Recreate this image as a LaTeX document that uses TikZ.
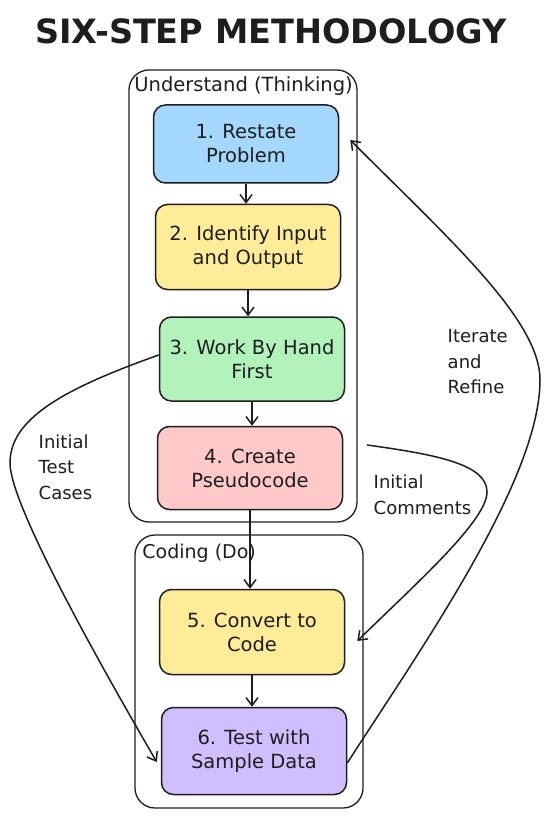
\documentclass[tikz,border=0pt]{standalone}
\usepackage{fontspec}
\setmainfont{DejaVu Sans}
\usepackage{tikz}
\usetikzlibrary{arrows.meta, positioning}
\definecolor{ink}{RGB}{30, 30, 30}
\definecolor{skyblue}{RGB}{165, 216, 255}
\definecolor{butter}{RGB}{255, 236, 153}
\definecolor{mint}{RGB}{178, 242, 187}
\definecolor{blush}{RGB}{255, 201, 201}
\definecolor{lilac}{RGB}{208, 191, 255}

\begin{document}
\begin{tikzpicture}[x=1pt, y=-1pt, thick, ink,
  stepbox/.style={draw=ink, line width=1.5pt, rounded corners=12pt,
    minimum width=185pt, minimum height=82pt, align=center,
    font=\fontsize{19.5}{24}\selectfont},
  grp/.style={draw=ink, line width=1.3pt, rounded corners=20pt},
  flow/.style={draw=ink, line width=1.5pt, -{Straight Barb[length=8pt, width=12pt]}},
  note/.style={align=left, anchor=west, font=\fontsize{18}{25.5}\selectfont}]

  \fill[white] (0, 0) rectangle (548, 818);
  \useasboundingbox (0, 0) rectangle (548, 818);

  \node[font=\bfseries\fontsize{33.5}{40}\selectfont] (title) at (271, 31) {SIX-STEP METHODOLOGY};

  % the two phases
  \draw[grp] (129, 70) rectangle (357, 522);
  \node[anchor=west, inner sep=2pt, font=\fontsize{19.5}{22}\selectfont] (think) at (132, 86) {Understand (Thinking)};
  \draw[grp] (135, 535) rectangle (363, 808);
  \node[anchor=west, inner sep=2pt, font=\fontsize{19}{22}\selectfont] (coding) at (140, 553) {Coding (Do)};

  \node[stepbox, fill=skyblue, minimum height=78pt] (s1) at (246, 144) {1. Restate\\Problem};
  \node[stepbox, fill=butter, minimum height=85pt] (s2) at (248, 247) {2. Identify Input\\and Output};
  \node[stepbox, fill=mint, minimum height=84pt] (s3) at (252, 359) {3. Work By Hand\\First};
  \node[stepbox, fill=blush, minimum height=83pt] (s4) at (250, 468) {4. Create\\Pseudocode};
  \node[stepbox, fill=butter, minimum height=85pt] (s5) at (252, 632) {5. Convert to\\Code};
  \node[stepbox, fill=lilac, minimum height=87pt] (s6) at (254, 751) {6. Test with\\Sample Data};

  \foreach \a/\b in {s1/s2, s2/s3, s3/s4, s4/s5, s5/s6}
    \draw[flow] (\a.south) -- (\a.south |- \b.north);

  % loops round the side
  \draw[flow] ([yshift=4pt]s3.west) .. controls (60, 390) and (10, 420) .. (10, 463)
    .. controls (10, 500) and (80, 630) .. ([xshift=-4pt, yshift=-11pt]s6.west);
  \node[note] (tests) at (35, 467) {Initial\\Test\\Cases};

  \draw[flow] ([yshift=-12pt]s6.east) .. controls (420, 650) and (540, 480) .. (540, 380)
    .. controls (540, 320) and (450, 240) .. ([xshift=11pt, yshift=4pt]s1.east);
  \node[note] (refine) at (444, 362) {Iterate\\and\\Refine};

  \coordinate (cstart) at (367, 445);
  \draw[flow] (cstart) .. controls (440, 455) and (487, 465) .. (487, 492)
    .. controls (487, 520) and (420, 580) .. ([xshift=12pt, yshift=-9pt]s5.east);
  \node[note] (comments) at (370, 495) {Initial\\Comments};

\end{tikzpicture}
\end{document}
